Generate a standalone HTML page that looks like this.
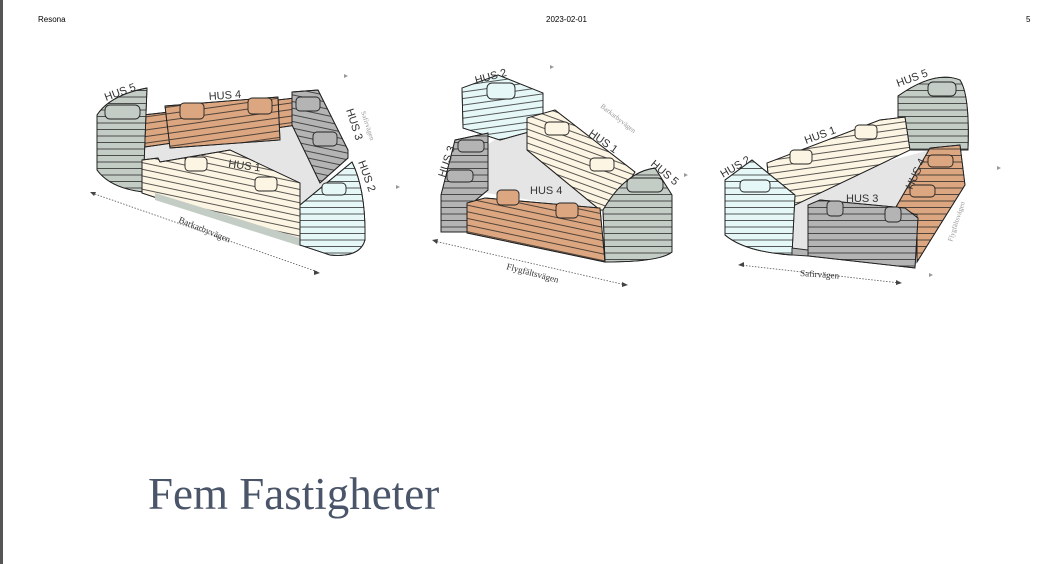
<!DOCTYPE html>
<html><head><meta charset="utf-8"><style>
html,body{margin:0;padding:0;background:#fff;}
body{width:1048px;height:564px;position:relative;overflow:hidden;font-family:"Liberation Sans",sans-serif;}
.lb{position:absolute;left:0;top:0;width:3px;height:564px;background:#555;}
.h{position:absolute;top:15px;font-size:8px;color:#000;}
.t{position:absolute;left:148px;top:468px;font-family:"Liberation Serif",serif;font-size:45px;color:#4a5569;}
</style></head><body>
<div class="lb"></div>
<div class="h" style="left:38px">Resona</div>
<div class="h" style="left:546px">2023-02-01</div>
<div class="h" style="left:1026px">5</div>
<svg width="1048" height="564" style="position:absolute;left:0;top:0">
<defs>
<pattern id="s" width="20" height="6.5" patternUnits="userSpaceOnUse"><line x1="0" y1="6" x2="20" y2="6" stroke="#222" stroke-width="0.7"/></pattern>
<pattern id="s1" width="20" height="6.5" patternUnits="userSpaceOnUse" patternTransform="rotate(20)"><line x1="0" y1="6" x2="20" y2="6" stroke="#222" stroke-width="0.7"/></pattern>
<pattern id="s2" width="20" height="6.5" patternUnits="userSpaceOnUse" patternTransform="rotate(-8)"><line x1="0" y1="6" x2="20" y2="6" stroke="#222" stroke-width="0.7"/></pattern>
<pattern id="s3" width="20" height="6.5" patternUnits="userSpaceOnUse" patternTransform="rotate(12)"><line x1="0" y1="6" x2="20" y2="6" stroke="#222" stroke-width="0.7"/></pattern>
</defs>
<g stroke="#222" stroke-width="0.9">
<polygon points="145,140 300,105 330,185 300,210 145,165" fill="#e5e5e5" stroke="none"/>
<polygon points="143,115 295,98 297,125 145,147" fill="#dca680"/><polygon points="143,115 295,98 297,125 145,147" fill="url(#s2)"/>
<polygon points="165,106 278,97 280,140 170,148" fill="#dca680"/><polygon points="165,106 278,97 280,140 170,148" fill="url(#s2)"/>
<rect x="180" y="103" width="24" height="16" rx="4" fill="#dca680"/><rect x="248" y="98" width="24" height="16" rx="4" fill="#dca680"/>
<path d="M97,115 Q110,95 147,88 L143,192 Q110,188 97,170 Z" fill="#c3ccc5"/><path d="M97,115 Q110,95 147,88 L143,192 Q110,188 97,170 Z" fill="url(#s)"/>
<rect x="105" y="105" width="35" height="14" rx="5" fill="#c3ccc5"/>
<polygon points="292,92 318,90 348,150 348,158 320,183 292,125" fill="#b4b4b4"/><polygon points="292,92 318,90 348,150 348,158 320,183 292,125" fill="url(#s3)"/>
<rect x="296" y="97" width="24" height="14" rx="4" fill="#b4b4b4"/><rect x="313" y="132" width="24" height="14" rx="4" fill="#b4b4b4"/>
<polygon points="142,160 158,158 160,162 230,150 300,183 300,245 142,193" fill="#fdf5e3"/><polygon points="142,160 158,158 160,162 230,150 300,183 300,245 142,193" fill="url(#s3)"/>
<polygon points="155,193 300,238 300,246 155,200" fill="#c3ccc5" stroke="none"/>
<rect x="185" y="157" width="22" height="14" rx="4" fill="#fdf5e3"/><rect x="255" y="177" width="22" height="14" rx="4" fill="#fdf5e3"/>
<path d="M300,205 L352,162 Q366,190 365,240 Q360,258 330,255 L300,245 Z" fill="#e6f7f7"/><path d="M300,205 L352,162 Q366,190 365,240 Q360,258 330,255 L300,245 Z" fill="url(#s)"/>
<rect x="322" y="183" width="24" height="12" rx="4" fill="#e6f7f7"/>
<polygon points="480,150 530,115 605,205 605,212 480,192" fill="#e5e5e5" stroke="none"/>
<polygon points="462,88 498,75 543,93 543,128 500,140 463,128" fill="#e6f7f7"/><polygon points="462,88 498,75 543,93 543,128 500,140 463,128" fill="url(#s2)"/>
<rect x="487" y="83" width="28" height="16" rx="5" fill="#e6f7f7"/>
<polygon points="527,118 555,110 635,172 612,210 600,210 527,150" fill="#fdf5e3"/><polygon points="527,118 555,110 635,172 612,210 600,210 527,150" fill="url(#s1)"/>
<rect x="545" y="122" width="24" height="13" rx="4" fill="#fdf5e3"/><rect x="590" y="158" width="24" height="13" rx="4" fill="#fdf5e3"/>
<polygon points="455,140 488,133 488,190 470,205 468,232 441,232 441,195" fill="#b4b4b4"/><polygon points="455,140 488,133 488,190 470,205 468,232 441,232 441,195" fill="url(#s)"/>
<rect x="458" y="140" width="26" height="12" rx="4" fill="#b4b4b4"/><rect x="447" y="170" width="26" height="12" rx="4" fill="#b4b4b4"/>
<polygon points="467,203 485,198 600,208 605,262 467,233" fill="#dca680"/><polygon points="467,203 485,198 600,208 605,262 467,233" fill="url(#s3)"/>
<rect x="497" y="190" width="22" height="15" rx="4" fill="#dca680"/><rect x="556" y="203" width="22" height="15" rx="4" fill="#dca680"/>
<path d="M603,210 Q625,172 655,168 L672,195 L672,252 Q660,262 605,262 Z" fill="#c3ccc5"/><path d="M603,210 Q625,172 655,168 L672,195 L672,252 Q660,262 605,262 Z" fill="url(#s)"/>
<rect x="627" y="178" width="36" height="14" rx="5" fill="#c3ccc5"/>
<polygon points="780,190 930,150 915,215 810,250 780,245" fill="#e5e5e5" stroke="none"/>
<path d="M898,96 Q935,70 960,80 Q970,95 968,150 L898,150 Z" fill="#c3ccc5"/><path d="M898,96 Q935,70 960,80 Q970,95 968,150 L898,150 Z" fill="url(#s)"/>
<rect x="928" y="82" width="28" height="14" rx="5" fill="#c3ccc5"/>
<polygon points="767,163 880,120 905,117 910,150 795,205 770,195" fill="#fdf5e3"/><polygon points="767,163 880,120 905,117 910,150 795,205 770,195" fill="url(#s2)"/>
<rect x="790" y="150" width="22" height="14" rx="4" fill="#fdf5e3"/><rect x="855" y="125" width="22" height="14" rx="4" fill="#fdf5e3"/>
<path d="M725,180 L752,160 L795,195 L792,255 Q745,252 725,235 Z" fill="#e6f7f7"/><path d="M725,180 L752,160 L795,195 L792,255 Q745,252 725,235 Z" fill="url(#s)"/>
<rect x="740" y="180" width="30" height="12" rx="4" fill="#e6f7f7"/>
<polygon points="896,207 930,148 960,145 965,185 940,225 917,262 917,215" fill="#dca680"/><polygon points="896,207 930,148 960,145 965,185 940,225 917,262 917,215" fill="url(#s)"/>
<rect x="928" y="155" width="25" height="12" rx="4" fill="#dca680"/><rect x="910" y="185" width="25" height="12" rx="4" fill="#dca680"/>
<polygon points="808,205 820,200 905,208 918,218 915,268 808,256" fill="#b4b4b4"/><polygon points="808,205 820,200 905,208 918,218 915,268 808,256" fill="url(#s)"/>
<polygon points="792,248 808,250 808,256 792,255" fill="#b4b4b4"/>
<rect x="827" y="201" width="16" height="15" rx="4" fill="#b4b4b4"/><rect x="885" y="207" width="16" height="15" rx="4" fill="#b4b4b4"/>
</g>
<g stroke="#555" stroke-width="0.8" stroke-dasharray="1.5,1.5">
<line x1="92" y1="193" x2="318" y2="272"/>
<line x1="434" y1="241" x2="626" y2="285"/>
<line x1="740" y1="265" x2="900" y2="283"/>
</g>
<g fill="#444">
<polygon points="90,192 96,192 94,196"/><polygon points="320,273 314,270 314,275"/>
<polygon points="432,240 438,239 437,244"/><polygon points="628,285 622,282 622,287"/>
<polygon points="738,265 744,262 744,267"/><polygon points="902,283 896,280 896,285"/>
</g>
<g fill="#999"><polygon points="344,74 348,76 344,78"/><polygon points="396,185 400,187 396,189"/><polygon points="550,65 554,67 550,69"/><polygon points="684,173 688,175 684,177"/><polygon points="997,166 1001,168 997,170"/><polygon points="929,273 933,275 929,277"/></g>
<g font-family="Liberation Sans,sans-serif" font-size="11" fill="#333">
<text x="106" y="101" transform="rotate(-20 106 101)">HUS 5</text>
<text x="209" y="100" transform="rotate(-4 209 100)">HUS 4</text>
<text x="228" y="167" transform="rotate(8 228 167)">HUS 1</text>
<text x="346" y="110" transform="rotate(72 346 110)">HUS 3</text>
<text x="358" y="162" transform="rotate(70 358 162)">HUS 2</text>
<text x="476" y="84" transform="rotate(-15 476 84)">HUS 2</text>
<text x="588" y="135" transform="rotate(35 588 135)">HUS 1</text>
<text x="445" y="178" transform="rotate(-72 445 178)">HUS 3</text>
<text x="530" y="194">HUS 4</text>
<text x="650" y="165" transform="rotate(40 650 165)">HUS 5</text>
<text x="898" y="87" transform="rotate(-20 898 87)">HUS 5</text>
<text x="806" y="144" transform="rotate(-20 806 144)">HUS 1</text>
<text x="723" y="178" transform="rotate(-30 723 178)">HUS 2</text>
<text x="912" y="190" transform="rotate(-65 912 190)">HUS 4</text>
<text x="846" y="202">HUS 3</text>
</g>
<g font-family="Liberation Serif,serif" font-size="9" fill="#333">
<text x="178" y="222" transform="rotate(22 178 222)">Barkarbyvägen</text>
<text x="506" y="269" transform="rotate(15 506 269)">Flygfältsvägen</text>
<text x="800" y="276" transform="rotate(4 800 276)">Safirvägen</text>
</g>
<g font-family="Liberation Serif,serif" font-size="7" fill="#999">
<text x="361" y="112" transform="rotate(72 361 112)">Safirvägen</text>
<text x="600" y="107" transform="rotate(38 600 107)">Barkarbyvägen</text>
<text x="952" y="242" transform="rotate(-72 952 242)">Flygfältsvägen</text>
</g>
</svg>
<div class="t">Fem Fastigheter</div>
</body></html>
